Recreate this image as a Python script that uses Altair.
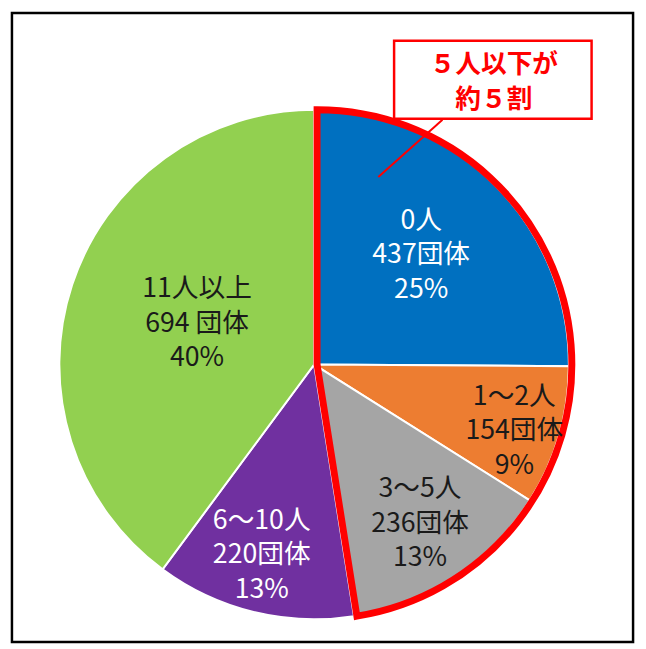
import altair as alt
import pandas as pd

# ---- data ----
categories = ["0人", "1～2人", "3～5人", "6～10人", "11人以上"]
counts = [437, 154, 236, 220, 694]
count_labels = ["437団体", "154団体", "236団体", "220団体", "694 団体"]
pct_labels = ["25%", "9%", "13%", "13%", "40%"]
colors = ["#0070C0", "#ED7D31", "#A5A5A5", "#7030A0", "#92D050"]
callout_lines = ["５人以下が", "約５割"]
group_size = 3  # first three categories = 5人以下

df = pd.DataFrame({
    "idx": list(range(len(categories))),
    "cat": categories,
    "count": counts,
    "cnt_label": count_labels,
    "pct": pct_labels,
})
total = sum(counts)

# ---- layout (plot coords; page offset 8px) ----
W, H = 638, 641
CX, CY = 310, 357
R = 258
FONT = "Noto Sans CJK JP"
LH = 35
label_radius = [150, 206, 173, 198, 128]
label_dx = [2, 5, 12, -6, 3]
label_dy = [-5, 10, 17, 1, -1]
label_color = ["white", "#1a1a1a", "#1a1a1a", "white", "#1a1a1a"]

theta_scale = alt.Scale(domain=[0, total])
base = alt.Chart(df)

pie = base.mark_arc(outerRadius=R, stroke="white", strokeWidth=2).encode(
    theta=alt.Theta("count:Q", stack=True, scale=theta_scale),
    color=alt.Color("cat:N", scale=alt.Scale(domain=categories, range=colors), legend=None),
    order=alt.Order("idx:Q"),
    x=alt.value(CX), y=alt.value(CY),
)

outline = (
    base.transform_filter(f"datum.idx < {group_size}")
    .transform_aggregate(gsum="sum(count)")
    .mark_arc(outerRadius=R, fillOpacity=0, fill="white", stroke="#FF0000",
              strokeWidth=7, strokeJoin="miter")
    .encode(
        theta=alt.Theta("gsum:Q", stack=True, scale=theta_scale),
        x=alt.value(CX + 3), y=alt.value(CY),
    )
)

lab_base = (
    base.transform_window(cum="sum(count)", sort=[alt.SortField("idx")], frame=[None, 0])
    .transform_calculate(mid="datum.cum - datum.count / 2",
                         label="datum.cat + '\\n' + datum.cnt_label + '\\n' + datum.pct")
)
label_layers = []
for i in range(len(categories)):
    label_layers.append(
        lab_base.transform_filter(f"datum.idx == {i}")
        .mark_text(radius=label_radius[i], font=FONT, fontSize=27, lineHeight=LH,
                   lineBreak="\n", align="center", baseline="middle",
                   dx=label_dx[i], dy=-LH + label_dy[i], color=label_color[i])
        .encode(
            theta=alt.Theta("mid:Q", stack=None, scale=theta_scale),
            text="label:N",
            x=alt.value(CX), y=alt.value(CY),
        )
    )

dummy = alt.Chart(pd.DataFrame({"a": [0]}))
frame = dummy.mark_rect(fill="white", fillOpacity=0, stroke="black", strokeWidth=2.5).encode(
    x=alt.value(4), x2=alt.value(633), y=alt.value(1), y2=alt.value(638))
pointer = dummy.mark_rule(color="#FF0000", strokeWidth=2).encode(
    x=alt.value(440), y=alt.value(109), x2=alt.value(375), y2=alt.value(167))
box = dummy.mark_rect(fill="white", stroke="#FF0000", strokeWidth=2.5).encode(
    x=alt.value(391), x2=alt.value(591), y=alt.value(29), y2=alt.value(108))
callout_text = [
    dummy.mark_text(font=FONT, fontSize=26, fontWeight="bold", color="#FF0000",
                    align="center", baseline="middle").encode(
        x=alt.value(492), y=alt.value(yy), text=alt.value(t))
    for t, yy in zip(callout_lines, [54, 89])
]

chart = alt.layer(frame, pie, outline, *label_layers, pointer, box, *callout_text).properties(
    width=W, height=H, padding=0, autosize=alt.AutoSizeParams(type="none")
).configure_view(stroke=None)

chart.save("out.html", embed_options={"renderer": "svg", "actions": False})
